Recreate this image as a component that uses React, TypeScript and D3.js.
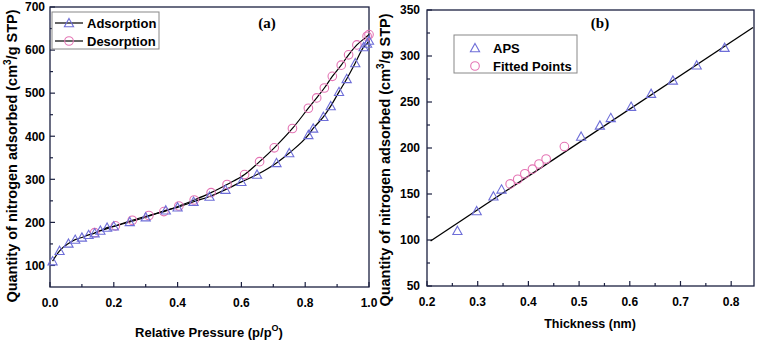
import React from "react";
import * as d3 from "d3";

// Panel (a): isotherm
const adsP = [0.008, 0.03, 0.058, 0.079, 0.1, 0.121, 0.14, 0.158, 0.179, 0.2, 0.25, 0.3, 0.363, 0.4, 0.45, 0.5, 0.55, 0.6, 0.649, 0.71, 0.75, 0.81, 0.825, 0.857, 0.88, 0.906, 0.93, 0.957, 0.983, 0.994, 1.0];
const adsV = [110, 134, 151, 160, 165, 171, 175, 181, 188, 191, 201, 212, 228, 235, 248, 260, 276, 294, 311, 338, 361, 403, 418, 445, 470, 503, 533, 570, 607, 615, 622];
const desP = [0.14, 0.205, 0.258, 0.31, 0.357, 0.404, 0.452, 0.505, 0.555, 0.61, 0.657, 0.703, 0.76, 0.81, 0.836, 0.86, 0.885, 0.913, 0.936, 0.962, 0.994, 1.0];
const desV = [176, 192, 205, 216, 225, 238, 252, 269, 288, 311, 341, 373, 418, 465, 489, 512, 539, 565, 589, 612, 632, 636];
const aXTicks = [0, 0.2, 0.4, 0.6, 0.8, 1.0];
const aYTicks = [100, 200, 300, 400, 500, 600, 700];

// Panel (b): t-plot
const apsT = [0.26, 0.298, 0.331, 0.347, 0.504, 0.541, 0.5625, 0.6026, 0.642, 0.685, 0.732, 0.787];
const apsV = [110, 131.5, 147.5, 155, 212.5, 224.5, 232.7, 244.9, 259, 273.4, 289.9, 309];
const fitT = [0.364, 0.379, 0.393, 0.408, 0.421, 0.435, 0.471];
const fitV = [161, 166, 172, 177, 182.6, 188, 201.5];
const lineT = [0.207, 0.843];
const lineV = [99, 331];
const bXTicks = [0.2, 0.3, 0.4, 0.5, 0.6, 0.7, 0.8];
const bYTicks = [50, 100, 150, 200, 250, 300, 350];

const AXIS = "#1b2040";
const TRI = "#6e6ed8";
const CIR = "#e474b4";
const FONT = "'Liberation Sans', Arial, sans-serif";

function tri(cx: number, cy: number, key: string) {
  const s = 4.6;
  const p = `M${cx},${cy - s} L${cx + s},${cy + s * 0.8} L${cx - s},${cy + s * 0.8} Z`;
  return <path key={key} d={p} fill="none" stroke={TRI} strokeWidth={1.1} />;
}
function circ(cx: number, cy: number, key: string) {
  return <circle key={key} cx={cx} cy={cy} r={4.3} fill="none" stroke={CIR} strokeWidth={1.1} />;
}

function Frame({ x, y, xTicks, yTicks, xMinor, yMinor, xFmt, yLabelX }: any) {
  const [x0, x1] = x.range();
  const [y0, y1] = y.range();
  return (
    <g>
      <rect x={x0} y={y1} width={x1 - x0} height={y0 - y1} fill="none" stroke={AXIS} strokeWidth={1.3} />
      {xTicks.map((t: number, i: number) => (
        <g key={"xt" + i}>
          <line x1={x(t)} x2={x(t)} y1={y0} y2={y0 - 5} stroke={AXIS} strokeWidth={1.2} />
          <text x={x(t)} y={y0 + 20} textAnchor="middle" fontFamily={FONT} fontWeight="bold" fontSize={12}>{xFmt(t)}</text>
        </g>
      ))}
      {xMinor.map((t: number, i: number) => (
        <line key={"xm" + i} x1={x(t)} x2={x(t)} y1={y0} y2={y0 - 3} stroke={AXIS} strokeWidth={1.2} />
      ))}
      {yTicks.map((t: number, i: number) => (
        <g key={"yt" + i}>
          <line x1={x0} x2={x0 + 5} y1={y(t)} y2={y(t)} stroke={AXIS} strokeWidth={1.2} />
          <text x={yLabelX} y={y(t) + 4.3} textAnchor="end" fontFamily={FONT} fontWeight="bold" fontSize={12}>{t}</text>
        </g>
      ))}
      {yMinor.map((t: number, i: number) => (
        <line key={"ym" + i} x1={x0} x2={x0 + 3} y1={y(t)} y2={y(t)} stroke={AXIS} strokeWidth={1.2} />
      ))}
    </g>
  );
}

export default function App() {
  // Panel a scales
  const xa = d3.scaleLinear().domain([0, 1]).range([50, 369]);
  const ya = d3.scaleLinear().domain([50, 700]).range([287, 7]);
  // Panel b scales
  const xb = d3.scaleLinear().domain([0.2, 0.845]).range([427, 754]);
  const yb = d3.scaleLinear().domain([50, 350]).range([286, 10]);

  const lineA = d3.line<[number, number]>().x((d) => xa(d[0])).y((d) => ya(d[1])).curve(d3.curveMonotoneX);
  const adsPts: [number, number][] = adsP.map((p, i) => [p, adsV[i]]);
  const desPts: [number, number][] = desP.map((p, i) => [p, desV[i]]);
  const linePts: [number, number][] = lineT.map((t, i) => [t, lineV[i]]);
  const lineB = d3.line<[number, number]>().x((d) => xb(d[0])).y((d) => yb(d[1]));

  const fmt1 = d3.format(".1f");
  const aXMinor = d3.range(0.1, 1.0, 0.2);
  const aYMinor = d3.range(150, 700, 100);
  const bXMinor = d3.range(0.25, 0.85, 0.1);
  const bYMinor = d3.range(75, 350, 50);

  return (
    <svg width={758} height={345} style={{ position: "absolute", left: 0, top: 0, background: "#fff" }}>
      {/* Panel a */}
      <Frame x={xa} y={ya} xTicks={aXTicks} yTicks={aYTicks} xMinor={aXMinor} yMinor={aYMinor} xFmt={fmt1} yLabelX={45} />
      <path d={lineA(desPts) || ""} fill="none" stroke="#000" strokeWidth={1.2} />
      <path d={lineA(adsPts) || ""} fill="none" stroke="#000" strokeWidth={1.2} />
      {desPts.map((d, i) => circ(xa(d[0]), ya(d[1]), "dc" + i))}
      {adsPts.map((d, i) => tri(xa(d[0]), ya(d[1]), "at" + i))}
      <text x={267} y={28} textAnchor="middle" fontFamily="'Liberation Serif', 'Times New Roman', serif" fontWeight="bold" fontSize={15}>(a)</text>
      <text transform="translate(17,156) rotate(-90)" textAnchor="middle" fontFamily={FONT} fontWeight="bold" fontSize={14.5}>
        Quantity of nitrogen adsorbed (cm<tspan dy={-6} fontSize={10}>3</tspan><tspan dy={6}>/g STP)</tspan>
      </text>
      <text x={209} y={337} textAnchor="middle" fontFamily={FONT} fontWeight="bold" fontSize={13}>
        Relative Pressure (p/p<tspan dy={-6} fontSize={9}>O</tspan><tspan dy={6}>)</tspan>
      </text>
      {/* Legend a */}
      <rect x={52} y={12} width={107} height={37} fill="#fff" stroke="#888" strokeWidth={1} />
      <line x1={55} x2={83} y1={23} y2={23} stroke="#000" strokeWidth={1.2} />
      {tri(69, 23, "lt")}
      <text x={87} y={28} fontFamily={FONT} fontWeight="bold" fontSize={13}>Adsorption</text>
      <line x1={55} x2={83} y1={41} y2={41} stroke="#000" strokeWidth={1.2} />
      {circ(69, 41, "lc")}
      <text x={87} y={46} fontFamily={FONT} fontWeight="bold" fontSize={13}>Desorption</text>

      {/* Panel b */}
      <Frame x={xb} y={yb} xTicks={bXTicks} yTicks={bYTicks} xMinor={bXMinor} yMinor={bYMinor} xFmt={fmt1} yLabelX={420} />
      <path d={lineB(linePts) || ""} fill="none" stroke="#000" strokeWidth={1.3} />
      {apsT.map((t, i) => tri(xb(t), yb(apsV[i]), "bt" + i))}
      {fitT.map((t, i) => circ(xb(t), yb(fitV[i]), "bc" + i))}
      <text x={600} y={28} textAnchor="middle" fontFamily="'Liberation Serif', 'Times New Roman', serif" fontWeight="bold" fontSize={15}>(b)</text>
      <text transform="translate(390,160) rotate(-90)" textAnchor="middle" fontFamily={FONT} fontWeight="bold" fontSize={14.5}>
        Quantity of nitrogen adsorbed (cm<tspan dy={-6} fontSize={10}>3</tspan><tspan dy={6}>/g STP)</tspan>
      </text>
      <text x={590} y={328} textAnchor="middle" fontFamily={FONT} fontWeight="bold" fontSize={12.5}>Thickness (nm)</text>
      {/* Legend b */}
      <rect x={454} y={35} width={123} height={38} fill="#fff" stroke="#888" strokeWidth={1} />
      {tri(475, 48, "blt")}
      <text x={493} y={53} fontFamily={FONT} fontWeight="bold" fontSize={13}>APS</text>
      {circ(475, 66, "blc")}
      <text x={493} y={71} fontFamily={FONT} fontWeight="bold" fontSize={13}>Fitted Points</text>
    </svg>
  );
}
